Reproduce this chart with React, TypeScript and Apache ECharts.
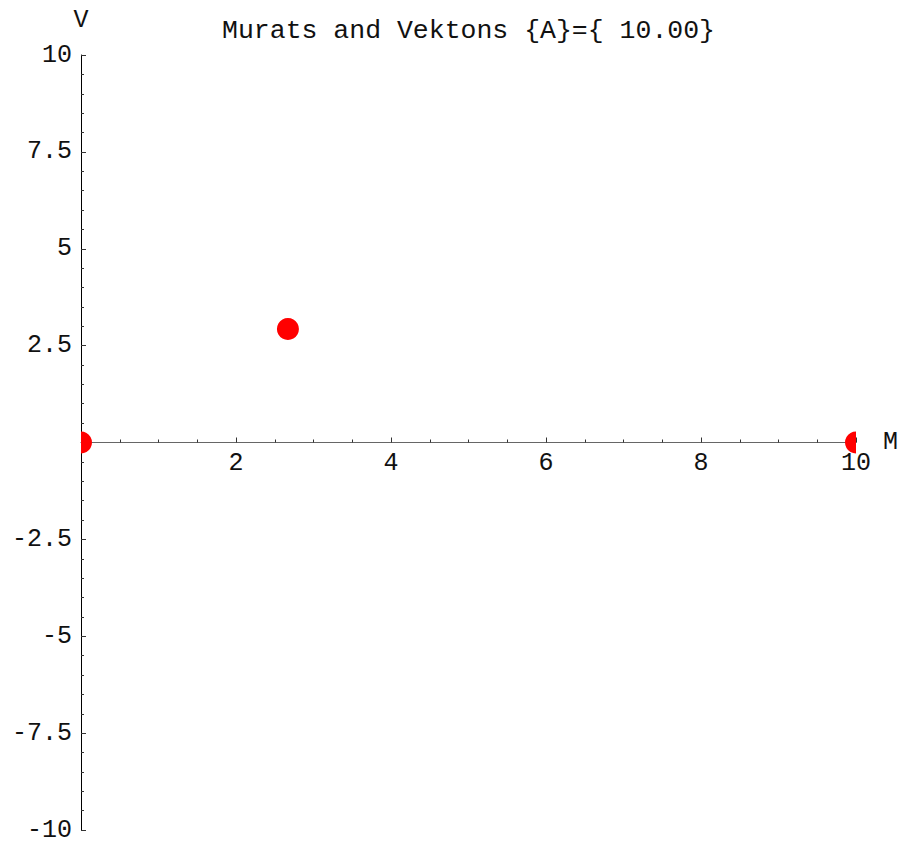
import React, { useEffect, useRef } from 'react';
import * as echarts from 'echarts';

const chartTitle = 'Murats and Vektons {A}={ 10.00}';
const xName = 'M';
const yName = 'V';
const pointX = [0, 2.67, 10];
const pointY = [0, 2.93, 0];
const xTickLabels = [2, 4, 6, 8, 10];
const yTickLabels = [-10, -7.5, -5, -2.5, 2.5, 5, 7.5, 10];

const FONT = 'Liberation Mono';
const GRID_TOP = 55;
const GRID_BOTTOM = 16;
const HEIGHT = 846;

export default function App() {
  const ref = useRef<HTMLDivElement>(null);
  useEffect(() => {
    document.body.style.margin = '0';
    const chart = echarts.init(ref.current!, null, { renderer: 'svg' });
    const data = pointX.map((x, i) => [x, pointY[i]]);
    const gridH = HEIGHT - GRID_TOP - GRID_BOTTOM;
    chart.setOption({
      animation: false,
      backgroundColor: '#ffffff',
      title: {
        text: chartTitle,
        left: 463.5,
        top: 12,
        textAlign: 'center',
        textStyle: { fontFamily: FONT, fontSize: 26.5, fontWeight: 'normal', color: '#111' },
      },
      grid: {
        left: 81,
        right: 47,
        top: GRID_TOP,
        bottom: GRID_BOTTOM,
        containLabel: false,
        outerBoundsMode: 'none',
      },
      xAxis: {
        type: 'value',
        min: 0,
        max: 10,
        interval: 2,
        position: 'bottom',
        offset: -gridH / 2,
        name: xName,
        nameLocation: 'end',
        nameGap: 27,
        nameTextStyle: { fontFamily: FONT, fontSize: 25, color: '#111' },
        axisLine: { show: true, onZero: false, lineStyle: { color: '#666', width: 1.2 } },
        axisTick: { show: true, inside: true, length: 5, lineStyle: { color: '#333' } },
        minorTick: { show: true, splitNumber: 4, length: 3, lineStyle: { color: '#333' } },
        splitLine: { show: false },
        minorSplitLine: { show: false },
        axisLabel: {
          formatter: (v: number) => (xTickLabels.includes(v) ? String(v) : ''),
          margin: 8,
          fontFamily: FONT,
          fontSize: 25,
          color: '#111',
          showMinLabel: true,
          showMaxLabel: true,
        },
      },
      yAxis: {
        type: 'value',
        min: -10,
        max: 10,
        interval: 2.5,
        name: yName,
        nameLocation: 'end',
        nameGap: 22,
        nameTextStyle: { fontFamily: FONT, fontSize: 25, color: '#111', align: 'center' },
        axisLine: { show: true, onZero: false, lineStyle: { color: '#000', width: 1 } },
        axisTick: { show: true, inside: true, length: 5, lineStyle: { color: '#333' } },
        minorTick: { show: true, splitNumber: 5, length: 3, lineStyle: { color: '#333' } },
        splitLine: { show: false },
        minorSplitLine: { show: false },
        axisLabel: {
          formatter: (v: number) => (yTickLabels.includes(v) ? String(v) : ''),
          margin: 9,
          fontFamily: FONT,
          fontSize: 25,
          color: '#111',
          showMinLabel: true,
          showMaxLabel: true,
        },
      },
      series: [
        {
          type: 'custom',
          data,
          clip: true,
          renderItem: (params: any, api: any) => {
            const p = api.coord([api.value(0), api.value(1)]);
            return {
              type: 'circle',
              shape: { cx: p[0], cy: p[1], r: 11 },
              style: { fill: '#ff0000' },
            };
          },
        },
      ],
    });
    return () => chart.dispose();
  }, []);
  return <div ref={ref} style={{ width: 903, height: 846 }} />;
}
